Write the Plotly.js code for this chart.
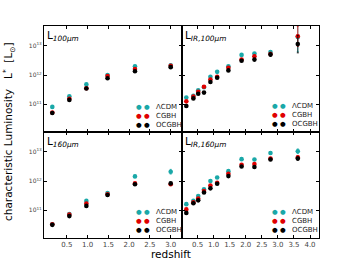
<!DOCTYPE html>
<html><head><meta charset="utf-8">
<script src="https://cdn.plot.ly/plotly-3.0.1.min.js"></script>
<style>html,body{margin:0;padding:0;background:#fff}#chart{width:354px;height:265px}</style>
</head><body><div id="chart"></div>
<script>
// Redshift bins
const zLeft = [0.15, 0.56, 0.97, 1.48, 2.14, 3.00];
const zRight = [0.15, 0.37, 0.52, 0.70, 0.90, 1.11, 1.46, 1.87, 2.27, 2.77, 3.62];
const xTicksLeft = [0.5, 1.0, 1.5, 2.0, 2.5, 3.0];
const xTicksRight = [0.5, 1.0, 1.5, 2.0, 2.5, 3.0, 3.5, 4.0];
const seriesNames = ["\u039bCDM", "CGBH", "OCGBH"];
const panelLabels = ["100\u03bcm", "IR,100\u03bcm", "160\u03bcm", "IR,160\u03bcm"];
const yTickVals = [1e11, 1e12, 1e13];
const yTickText = ["10<sup>11</sup>", "10<sup>12</sup>", "10<sup>13</sup>"];

// log10 L* [Lsun]
const l100_lcdm  = [10.91, 11.27, 11.68, 12.00, 12.30, 12.33];
const l100_cgbh  = [10.72, 11.19, 11.55, 11.97, 12.21, 12.32];
const l100_ocgbh = [10.70, 11.15, 11.54, 11.89, 12.13, 12.27];

const lir100_lcdm  = [11.23, 11.29, 11.48, 11.58, 11.94, 12.11, 12.30, 12.69, 12.74, 12.79, 13.30];
const lir100_cgbh  = [11.10, 11.26, 11.43, 11.60, 11.85, 11.94, 12.25, 12.53, 12.64, 12.72, 13.33];
const lir100_ocgbh = [10.94, 11.20, 11.36, 11.40, 11.76, 11.91, 12.16, 12.49, 12.53, 12.70, 13.06];

const l160_lcdm  = [10.52, 10.87, 11.32, 11.59, 12.16, 12.32];
const l160_cgbh  = [10.52, 10.85, 11.23, 11.55, 11.92, 11.89];
const l160_ocgbh = [10.50, 10.80, 11.15, 11.52, 11.89, 11.92];

const lir160_lcdm  = [11.21, 11.32, 11.49, 11.72, 12.00, 12.12, 12.34, 12.75, 12.74, 12.96, 13.02];
const lir160_cgbh  = [11.03, 11.27, 11.40, 11.66, 11.85, 11.94, 12.25, 12.56, 12.58, 12.77, 12.81];
const lir160_ocgbh = [10.91, 11.24, 11.34, 11.61, 11.75, 11.91, 12.17, 12.50, 12.48, 12.74, 12.77];

// errors in dex
const e100_lcdm  = [0.03, 0.03, 0.03, 0.03, 0.04, 0.05];
const e100_cgbh  = [0.02, 0.02, 0.02, 0.03, 0.03, 0.04];
const e100_ocgbh = [0.02, 0.02, 0.02, 0.03, 0.03, 0.04];
const eir100_lcdm  = [0.03, 0.02, 0.02, 0.02, 0.03, 0.03, 0.03, 0.03, 0.03, 0.05, 0.50];
const eir100_cgbh  = [0.03, 0.02, 0.02, 0.02, 0.03, 0.03, 0.03, 0.03, 0.04, 0.06, 0.35];
const eir100_ocgbh = [0.03, 0.02, 0.02, 0.02, 0.03, 0.03, 0.03, 0.03, 0.04, 0.06, 0.30];
const e160_lcdm  = [0.02, 0.02, 0.03, 0.03, 0.04, 0.08];
const e160_cgbh  = [0.02, 0.02, 0.03, 0.03, 0.03, 0.04];
const e160_ocgbh = [0.02, 0.02, 0.03, 0.03, 0.03, 0.04];
const eir160_lcdm  = [0.03, 0.02, 0.02, 0.02, 0.03, 0.03, 0.03, 0.03, 0.03, 0.05, 0.08];
const eir160_cgbh  = [0.03, 0.02, 0.02, 0.02, 0.03, 0.03, 0.03, 0.03, 0.03, 0.04, 0.06];
const eir160_ocgbh = [0.03, 0.02, 0.02, 0.02, 0.03, 0.03, 0.03, 0.03, 0.03, 0.04, 0.06];

const colors = ["#1aa8a8", "#e00000", "#000000"];

const W = 354, H = 265, M = {l: 44, r: 35, t: 26, b: 27};
const PW = W - M.l - M.r, PH = H - M.t - M.b;
const px2x = px => (px - M.l) / PW;
const py2y = py => (H - M.b - py) / PH;

const panels = [
  {z: zLeft,  vals: [l100_lcdm, l100_cgbh, l100_ocgbh],       errs: [e100_lcdm, e100_cgbh, e100_ocgbh],       ax: ["x","y"],   legX: 139, legY: 107},
  {z: zRight, vals: [lir100_lcdm, lir100_cgbh, lir100_ocgbh], errs: [eir100_lcdm, eir100_cgbh, eir100_ocgbh], ax: ["x2","y2"], legX: 275, legY: 106},
  {z: zLeft,  vals: [l160_lcdm, l160_cgbh, l160_ocgbh],       errs: [e160_lcdm, e160_cgbh, e160_ocgbh],       ax: ["x3","y3"], legX: 139, legY: 212},
  {z: zRight, vals: [lir160_lcdm, lir160_cgbh, lir160_ocgbh], errs: [eir160_lcdm, eir160_cgbh, eir160_ocgbh], ax: ["x4","y4"], legX: 275, legY: 212}
];

const traces = [];
const annotations = [
  {text: "characteristic Luminosity   L<sup>*</sup>  [L<sub>\u2299</sub>]", textangle: -90, xref: "paper", yref: "paper",
   x: px2x(9), y: py2y(132), xanchor: "center", yanchor: "middle", showarrow: false, font: {size: 10.5, family: "DejaVu Sans", color: "#000"}},
  {text: "redshift", xref: "paper", yref: "paper", x: px2x(171), y: py2y(254), xanchor: "center", yanchor: "middle", showarrow: false,
   font: {size: 10.5, family: "DejaVu Sans", color: "#000"}}
];

panels.forEach(p => {
  p.vals.forEach((v, i) => {
    const y = v.map(a => Math.pow(10, a));
    const up = v.map((a, k) => Math.pow(10, a + p.errs[i][k]) - Math.pow(10, a));
    const dn = v.map((a, k) => Math.pow(10, a) - Math.pow(10, a - p.errs[i][k]));
    traces.push({
      x: p.z, y: y, type: "scatter", mode: "markers", name: seriesNames[i], showlegend: false,
      xaxis: p.ax[0], yaxis: p.ax[1],
      marker: {color: colors[i], size: 4.6, line: {width: 0}},
      error_y: {type: "data", array: up, arrayminus: dn, visible: true, color: colors[i], thickness: 0.8, width: 1}
    });
    // legend row (two dots + label, as in the original)
    const ry = p.legY + i * 9;
    [0, 8].forEach(dx => annotations.push({text: "\u25cf", xref: "paper", yref: "paper", x: px2x(p.legX + dx), y: py2y(ry),
      xanchor: "center", yanchor: "middle", showarrow: false, font: {size: 6.5, family: "DejaVu Sans", color: colors[i]}}));
    annotations.push({text: seriesNames[i], xref: "paper", yref: "paper", x: px2x(p.legX + 15), y: py2y(ry),
      xanchor: "left", yanchor: "middle", showarrow: false, font: {size: 7, family: "DejaVu Sans", color: "#222"}});
  });
});

const panelAxes = [["x domain","y domain"],["x2 domain","y2 domain"],["x3 domain","y3 domain"],["x4 domain","y4 domain"]];
panelLabels.forEach((lab, i) => {
  annotations.push({text: "L<sub><i>" + lab + "</i></sub>", xref: panelAxes[i][0], yref: panelAxes[i][1],
    x: 0.01, y: 0.99, xanchor: "left", yanchor: "top", showarrow: false,
    font: {size: 10.5, family: "DejaVu Sans", color: "#000"}});
});

const baseX = {showline: true, linecolor: "#000", linewidth: 1, mirror: "allticks", ticks: "inside", ticklen: 3, tickcolor: "#000",
  showgrid: false, zeroline: false, tickmode: "array", tickfont: {size: 7, color: "#444", family: "DejaVu Sans"}};
const baseY = {type: "log", range: [10.05, 13.68], showline: true, linecolor: "#000", linewidth: 1, mirror: "allticks", ticks: "inside", ticklen: 3, tickcolor: "#000",
  showgrid: false, zeroline: false, tickvals: yTickVals, ticktext: yTickText, tickfont: {size: 6, color: "#444", family: "DejaVu Sans"}};
const lt = xTicksLeft.map(v => v.toFixed(1)), rt = xTicksRight.map(v => v.toFixed(1));

const layout = {
  width: W, height: H, paper_bgcolor: "#fff", plot_bgcolor: "#fff",
  margin: M, showlegend: false,
  xaxis:  Object.assign({}, baseX, {domain: [0, 0.5], anchor: "y", range: [-0.05, 3.26], tickvals: xTicksLeft, ticktext: lt, showticklabels: false}),
  xaxis2: Object.assign({}, baseX, {domain: [0.5, 1], anchor: "y2", range: [0, 4.28], tickvals: xTicksRight, ticktext: rt, showticklabels: false}),
  xaxis3: Object.assign({}, baseX, {domain: [0, 0.5], anchor: "y3", range: [-0.05, 3.26], tickvals: xTicksLeft, ticktext: lt}),
  xaxis4: Object.assign({}, baseX, {domain: [0.5, 1], anchor: "y4", range: [0, 4.28], tickvals: xTicksRight, ticktext: rt}),
  yaxis:  Object.assign({}, baseY, {domain: [0.5, 1], anchor: "x"}),
  yaxis2: Object.assign({}, baseY, {domain: [0.5, 1], anchor: "x2", showticklabels: false}),
  yaxis3: Object.assign({}, baseY, {domain: [0, 0.5], anchor: "x3"}),
  yaxis4: Object.assign({}, baseY, {domain: [0, 0.5], anchor: "x4", showticklabels: false}),
  annotations: annotations
};

Plotly.newPlot("chart", traces, layout, {staticPlot: true, displayModeBar: false});
</script></body></html>
